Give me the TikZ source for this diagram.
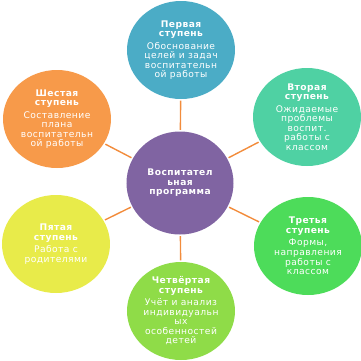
\documentclass[tikz,border=0pt]{standalone}
\usepackage{fontspec}
\setmainfont{DejaVu Sans}[LetterSpace=5]
\usepackage{tikz}
\usetikzlibrary{shapes.geometric}
\definecolor{stblue}{HTML}{4BACC6}
\definecolor{stteal}{HTML}{4FD1A3}
\definecolor{stgreen}{HTML}{4DDC5A}
\definecolor{stlime}{HTML}{8FDC48}
\definecolor{styellow}{HTML}{E8EB4A}
\definecolor{storange}{HTML}{F79A4A}
\definecolor{stpurple}{HTML}{8064A2}
\definecolor{linkorange}{HTML}{F28C3C}

\begin{document}
\begin{tikzpicture}[
    every node/.style={font=\fontsize{6.5}{6.8}\selectfont},
    stage/.style={ellipse, inner sep=-4pt, minimum width=2.7cm,
                  minimum height=2.45cm, text=white, align=center},
    hub/.style={stage, minimum width=2.675cm, minimum height=2.575cm},
    link/.style={linkorange, line width=1pt, shorten <=1pt, shorten >=1pt},
]
\useasboundingbox (0, 0) rectangle (9.025, -9.025);

% centre
\node[hub, fill=stpurple] (prog) at (4.5, -4.575)
    {\bfseries Воспитател\\\bfseries ьная\\\bfseries программа};

% the six stages
\node[stage, fill=stblue] (s1) at (4.525, -1.25)
    {\bfseries Первая\\\bfseries ступень\\[2pt]
     Обоснование\\целей и задач\\воспитательн\\ой работы};
\node[stage, fill=stteal] (s2) at (7.675, -2.925)
    {\bfseries Вторая\\\bfseries ступень\\[2pt]
     Ожидаемые\\проблемы\\воспит.\\работы с\\классом};
\node[stage, fill=stgreen] (s3) at (7.7, -6.15)
    {\bfseries Третья\\\bfseries ступень\\[2pt]
     Формы,\\направления\\работы с\\классом};
\node[stage, fill=stlime] (s4) at (4.525, -7.775)
    {\bfseries Четвёртая\\\bfseries ступень\\[2pt]
     Учёт и анализ\\индивидуальн\\ых\\особенностей\\детей};
\node[stage, fill=styellow] (s5) at (1.4, -6.1)
    {\bfseries Пятая\\\bfseries ступень\\[2pt]
     Работа с\\родителями};
\node[stage, fill=storange] (s6) at (1.425, -2.975)
    {\bfseries Шестая\\\bfseries ступень\\[2pt]
     Составление\\плана\\воспитательн\\ой работы};

\foreach \i in {1,...,6} {
    \draw[link] (prog) -- (s\i);
}

\end{tikzpicture}
\end{document}
